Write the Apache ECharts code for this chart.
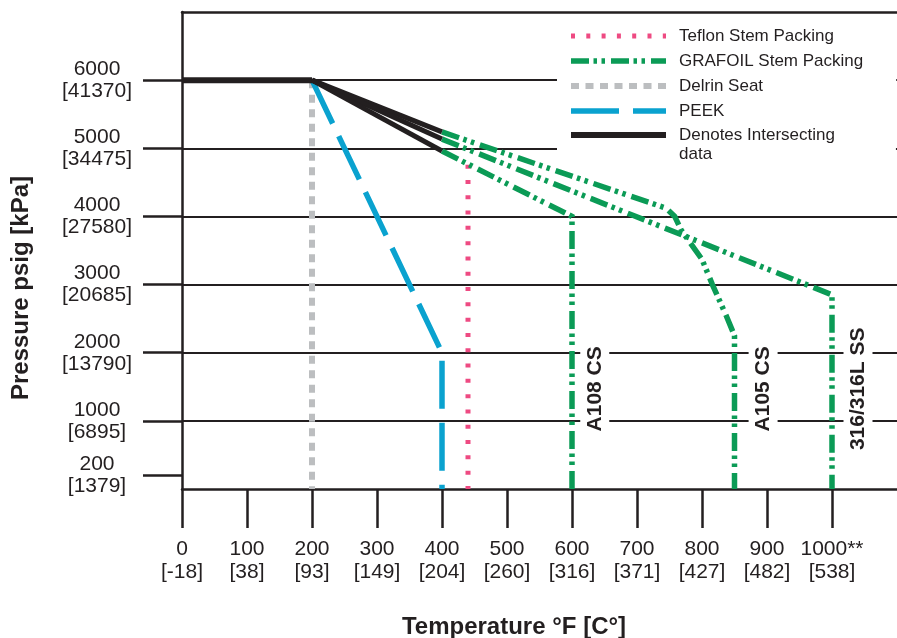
<!DOCTYPE html>
<html><head><meta charset="utf-8">
<script src="https://cdn.jsdelivr.net/npm/echarts@6/dist/echarts.min.js"></script>
<style>html,body{margin:0;padding:0;background:#fff}#c{width:897px;height:638px}</style>
</head><body><div id="c"></div>
<script>
// ---- axis ticks / labels ----
const tempTicksF = [0,100,200,300,400,500,600,700,800,900,1000];
const tempTickLabelsF = ['0','100','200','300','400','500','600','700','800','900','1000**'];
const tempTickLabelsC = ['-18','38','93','149','204','260','316','371','427','482','538'];
const pressureTicks = [200,1000,2000,3000,4000,5000,6000];
const pressureTickLabelsKPa = ['1379','6895','13790','20685','27580','34475','41370'];

// ---- series values [°F, psig] ----
const sharedFlat   = [[0,6000],[200,6000]];
const sharedToA105 = [[200,6000],[400,5240]];
const sharedTo316  = [[200,6000],[400,5135]];
const sharedToA108 = [[200,6000],[400,4960]];
const grafoilA105  = [[400,5240],[745,4120],[758,4000],[768,3800],[800,3370],[816,3000],[837,2550],[850,2250],[850,0]];
const grafoil316   = [[400,5135],[1000,2850],[1000,0]];
const grafoilA108  = [[400,4960],[600,4000],[600,0]];
const teflon       = [[440,4760],[440,0]];
const delrin       = [[200,6000],[200,0]];
const peek         = [[200,6000],[400,2000],[400,0]];

// ---- material annotations ----
const materialNames = ['A108 CS','A105 CS','316/316L SS'];
const materialLabelAt = [[635,1470],[894,1470],[1040,1470]];

const INK = '#231f20';
const GREEN = '#0b9b56';
const PINK = '#ee4a82';
const GRAY = '#bcbec0';
const BLUE = '#0aa2cf';
const FONT = '"Liberation Sans", Arial, Helvetica, sans-serif';

function lineSeries(name, data, color, width, dash) {
  return {
    type: 'line', name: name, data: data, symbol: 'none', showSymbol: false,
    silent: true, animation: false,
    lineStyle: { color: color, width: width, type: dash || 'solid', cap: 'butt', join: 'miter' },
    itemStyle: { color: color }
  };
}
const GRAFOIL_DASH = [18, 4.5, 3.5, 4.5, 3.5, 6];

const legendCommon = {
  orient: 'vertical', left: 557,
  itemWidth: 95, itemHeight: 20, itemGap: 5,
  backgroundColor: '#fff', selectedMode: false,
  textStyle: { color: INK, fontSize: 17, fontFamily: FONT, lineHeight: 20, padding: [0, 0, 0, 8] },
  lineStyle: { width: 'inherit' },
  itemStyle: { opacity: 0 }
};

const chart = echarts.init(document.getElementById('c'), null, { renderer: 'canvas' });
chart.setOption({
  animation: false,
  backgroundColor: '#fff',
  grid: { left: 182, top: 12, width: 715, height: 477, show: false, outerBoundsMode: 'none' },
  legend: [
    Object.assign({}, legendCommon, {
      top: 18, padding: [8, 33, 4, 11],
      data: ['Teflon Stem Packing', 'GRAFOIL Stem Packing', 'Delrin Seat', 'PEEK']
    }),
    Object.assign({}, legendCommon, {
      top: 106.5, padding: [0, 61, 0, 11],
      data: [{ name: 'Denotes Intersecting data', textStyle: { lineHeight: 19 } }],
      formatter: function () { return '\nDenotes Intersecting\ndata'; }
    })
  ],
  xAxis: [{
    type: 'value', min: 0, max: 1100,
    axisLine: { show: true, onZero: false, lineStyle: { color: INK, width: 2.5 } },
    axisTick: { show: true, customValues: tempTicksF, length: 39, lineStyle: { color: INK, width: 2.5 } },
    axisLabel: {
      customValues: tempTicksF, margin: 49, color: INK, fontSize: 21, fontFamily: FONT, lineHeight: 23,
      formatter: function (v) { const i = tempTicksF.indexOf(v); return tempTickLabelsF[i] + '\n[' + tempTickLabelsC[i] + ']'; }
    },
    splitLine: { show: false }
  }, {
    type: 'value', min: 0, max: 1100, position: 'top',
    axisLine: { show: true, onZero: false, lineStyle: { color: INK, width: 2.5 } },
    axisTick: { show: false }, axisLabel: { show: false }, splitLine: { show: false }
  }],
  yAxis: {
    type: 'value', min: 0, max: 7000,
    axisLine: { show: true, onZero: false, lineStyle: { color: INK, width: 2.5 } },
    axisTick: { show: true, customValues: pressureTicks, length: 39, lineStyle: { color: INK, width: 2.5 } },
    axisLabel: {
      customValues: pressureTicks, margin: 85, align: 'center', color: INK, fontSize: 21, fontFamily: FONT, lineHeight: 22,
      formatter: function (v) { const i = pressureTicks.indexOf(v); return pressureTicks[i] + '\n[' + pressureTickLabelsKPa[i] + ']'; }
    },
    splitLine: { show: true, showMinLine: false, lineStyle: { color: INK, width: 2.2 } }
  },
  graphic: [
    { type: 'text', x: 514, y: 627, silent: true,
      style: { text: 'Temperature °F [C°]', font: 'bold 24px ' + FONT, fill: INK, align: 'center', verticalAlign: 'middle' } },
    { type: 'text', x: 21, y: 288, rotation: Math.PI / 2, silent: true,
      style: { text: 'Pressure psig [kPa]', font: 'bold 24px ' + FONT, fill: INK, align: 'center', verticalAlign: 'middle' } }
  ],
  series: [
    lineSeries('Delrin Seat', delrin, GRAY, 6, [8, 6.5]),
    lineSeries('PEEK', peek, BLUE, 5.5, [48, 14]),
    lineSeries('Teflon Stem Packing', teflon, PINK, 5, [4, 11.3]),
    lineSeries('GRAFOIL Stem Packing', grafoilA108, GREEN, 5.5, GRAFOIL_DASH),
    lineSeries('GRAFOIL Stem Packing', grafoilA105, GREEN, 5.5, GRAFOIL_DASH),
    lineSeries('GRAFOIL Stem Packing', grafoil316, GREEN, 5.5, GRAFOIL_DASH),
    lineSeries('Denotes Intersecting data', sharedFlat, INK, 6),
    lineSeries('Denotes Intersecting data', sharedToA105, INK, 5),
    lineSeries('Denotes Intersecting data', sharedTo316, INK, 5),
    lineSeries('Denotes Intersecting data', sharedToA108, INK, 5),
    {
      type: 'scatter', name: 'materials', silent: true, animation: false, z: 4,
      data: materialNames.map(function (n, i) { return { name: n, value: materialLabelAt[i] }; }),
      symbolSize: 1, itemStyle: { color: 'rgba(0,0,0,0)', opacity: 1 },
      label: {
        show: true, position: 'inside', rotate: 90, formatter: function (p) { return p.name; },
        color: INK, opacity: 1, fontSize: 21, fontWeight: 'bold', fontFamily: FONT, lineHeight: 21,
        backgroundColor: '#fff', padding: [4, 2, 4, 2]
      }
    }
  ]
});
</script>
</body></html>
